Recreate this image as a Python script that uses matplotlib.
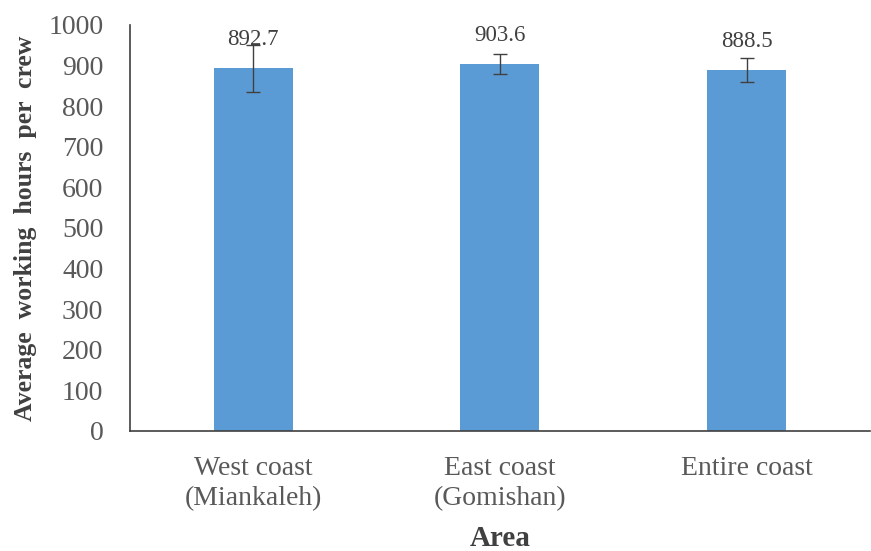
import matplotlib.pyplot as plt
import numpy as np

# data
areas = ['West coast\n(Miankaleh)', 'East coast\n(Gomishan)', 'Entire coast']
hours = [892.7, 903.6, 888.5]
errors = [57, 24, 30]
y_ticks = list(range(0, 1001, 100))

serif = ['Liberation Serif', 'DejaVu Serif']

fig = plt.figure(figsize=(8.71, 5.51), dpi=100)
ax = fig.add_axes([0.149, 0.218, 0.850, 0.737])

x = np.arange(len(areas))
ax.bar(x, hours, width=0.32, color='#5B9BD5', zorder=2)
ax.errorbar(x, hours, yerr=errors, fmt='none', ecolor='#404040',
            elinewidth=1, capsize=5, capthick=1, zorder=3)

for xi, h in zip(x, hours):
    ax.annotate(f'{h:.1f}', (xi, h), xytext=(0, 13), textcoords='offset points',
                ha='center', va='bottom', fontsize=16.5, color='#404040',
                family=serif)

ax.set_xlim(-0.5, len(areas) - 0.5)
ax.set_ylim(0, 1000)
ax.set_yticks(y_ticks)
ax.set_xticks(x)
ax.set_xticklabels(areas, family=serif, fontsize=20, color='#595959',
                   linespacing=1.25)
ax.set_yticklabels([str(t) for t in y_ticks], family=serif, fontsize=20,
                   color='#595959')
ax.tick_params(axis='y', length=0, pad=19)
ax.tick_params(axis='x', length=0, pad=18)

for side in ['top', 'right']:
    ax.spines[side].set_visible(False)
for side in ['left', 'bottom']:
    ax.spines[side].set_color('#404040')
    ax.spines[side].set_linewidth(1.2)

ax.set_ylabel('Average  working  hours  per  crew', family=serif, fontsize=18.5,
              fontweight='bold', color='#404040', labelpad=8)
ax.set_xlabel('Area', family=serif, fontsize=21, fontweight='bold',
              color='#404040', labelpad=10)

fig.savefig('out.png', dpi=100)
